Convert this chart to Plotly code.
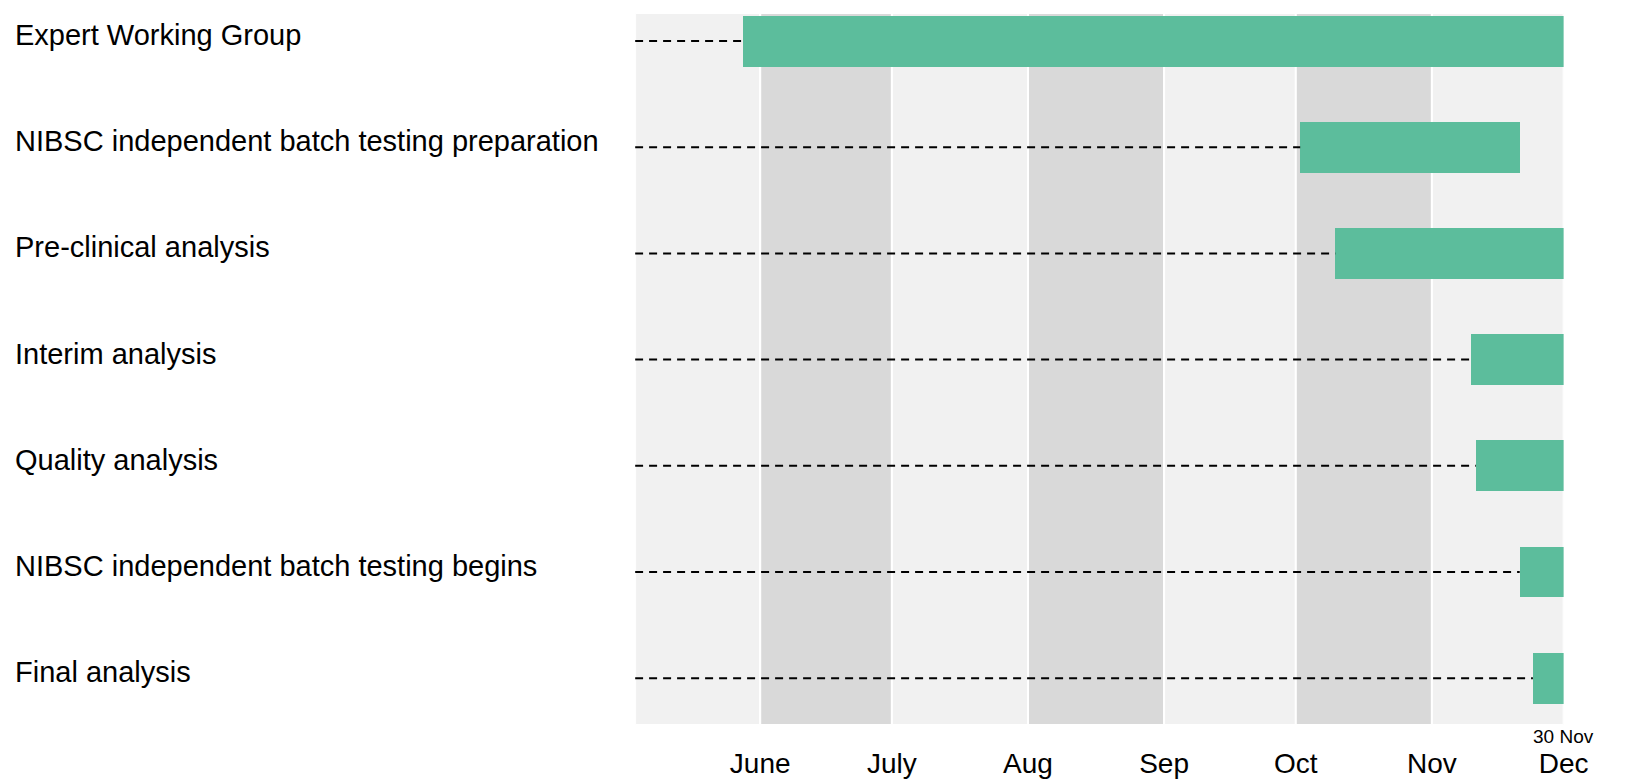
import plotly.graph_objects as go
import pandas as pd

# ---- data ----
tasks = [
    "Expert Working Group",
    "NIBSC independent batch testing preparation",
    "Pre-clinical analysis",
    "Interim analysis",
    "Quality analysis",
    "NIBSC independent batch testing begins",
    "Final analysis",
]
starts = ["2020-05-28", "2020-10-02", "2020-10-10", "2020-11-10",
          "2020-11-11", "2020-11-21", "2020-11-24"]
ends = ["2020-12-01", "2020-11-21", "2020-12-01", "2020-12-01",
        "2020-12-01", "2020-12-01", "2020-12-01"]
month_starts = ["2020-06-01", "2020-07-01", "2020-08-01", "2020-09-01",
                "2020-10-01", "2020-11-01", "2020-12-01"]
month_labels = ["June", "July", "Aug", "Sep", "Oct", "Nov", "Dec"]
x_range = ["2020-05-03 12:00", "2020-12-01"]
end_note = "30 Nov"

# ---- styles ----
GREEN = "#5cbd9c"
LIGHT = "#f1f1f1"
DARK = "#d9d9d9"
FONT = "Liberation Sans, Arial, sans-serif"

W, H = 1628, 784
plot_left, plot_right = 645, 1588
plot_top, plot_bottom = 13, 725

fig = go.Figure()

# dashed lead-in lines
lx, ly = [], []
for t, s in zip(tasks, starts):
    lx += [x_range[0], s, None]
    ly += [t, t, None]
fig.add_trace(go.Scatter(
    x=lx, y=ly, mode="lines",
    line=dict(color="black", width=2, dash="8px,6px"),
    hoverinfo="skip", showlegend=False,
))

# bars
durations = [(pd.Timestamp(e) - pd.Timestamp(s)).total_seconds() * 1000
             for s, e in zip(starts, ends)]
fig.add_trace(go.Bar(
    y=tasks, x=durations, base=starts, orientation="h",
    marker=dict(color=GREEN, line=dict(width=0)),
    width=0.48, showlegend=False,
))

# month background bands
band_edges = [x_range[0]] + month_starts
shapes = []
for i in range(len(band_edges) - 1):
    shapes.append(dict(
        type="rect", xref="x", yref="paper",
        x0=band_edges[i], x1=band_edges[i + 1],
        y0=(H - plot_bottom) / H, y1=(H - plot_top) / H,
        fillcolor=LIGHT if i % 2 == 0 else DARK,
        line=dict(color="white", width=2),
        layer="below",
    ))

# task labels on the left
annotations = []
for t in tasks:
    annotations.append(dict(
        x=13 / W, xref="paper", y=t, yref="y",
        text=t, showarrow=False, xanchor="left", yanchor="middle",
        yshift=6, font=dict(family=FONT, size=29, color="black"),
    ))
annotations.append(dict(
    x=month_starts[-1], xref="x", y=(H - 736) / H, yref="paper",
    text=end_note, showarrow=False, xanchor="center", yanchor="middle",
    font=dict(family=FONT, size=19, color="black"),
))

fig.update_layout(
    autosize=True,
    margin=dict(l=0, r=0, t=0, b=0),
    paper_bgcolor="white", plot_bgcolor="rgba(0,0,0,0)",
    shapes=shapes, annotations=annotations,
    bargap=0,
    xaxis=dict(
        type="date", range=x_range,
        domain=[plot_left / W, plot_right / W],
        tickmode="array", tickvals=month_starts, ticktext=month_labels,
        tickfont=dict(family=FONT, size=28, color="black"),
        showgrid=False, zeroline=False, showline=False, ticks="",
        ticklabelstandoff=19,
    ),
    yaxis=dict(
        type="category", categoryorder="array", categoryarray=tasks,
        range=[6.441, -0.264],
        domain=[(H - plot_bottom) / H, (H - plot_top) / H],
        showticklabels=False, showgrid=False, zeroline=False, showline=False,
    ),
    font=dict(family=FONT),
)

fig.write_html(
    "out.html",
    config={"displayModeBar": False, "responsive": True},
    default_width="100vw",
    default_height="100vh",
    post_script="document.body.style.margin='0';document.body.style.overflow='hidden';",
)
